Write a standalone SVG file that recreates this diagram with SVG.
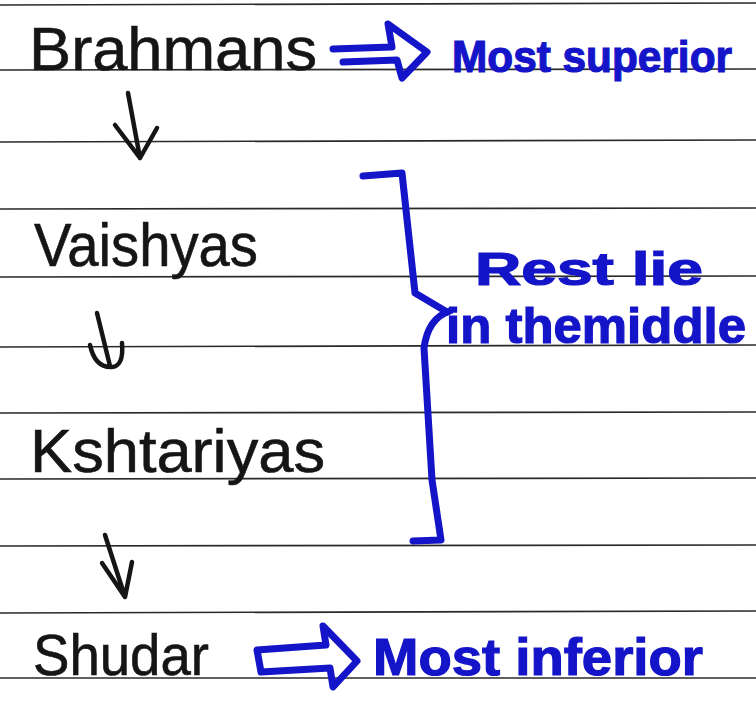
<svg xmlns="http://www.w3.org/2000/svg" width="756" height="710" viewBox="0 0 756 710">
<style>
.rule{stroke:#2a2a2a;stroke-width:1.6;fill:none}
.ink{font-family:"Liberation Sans","DejaVu Sans",sans-serif;fill:#151515;stroke:#151515;stroke-width:0.6}
.blue{font-family:"Liberation Sans","DejaVu Sans",sans-serif;font-weight:bold;fill:#1414c8;stroke:#1414c8;stroke-width:1.2}
.pen{stroke:#151515;stroke-width:4.5;fill:none;stroke-linecap:round;stroke-linejoin:round}
.bpen{stroke:#1414c8;stroke-width:7;fill:none;stroke-linecap:round;stroke-linejoin:round}
</style>
<rect width="756" height="710" fill="#ffffff"/>
<g id="paper-lines">
<line class="rule" x1="0" y1="5" x2="756" y2="3"/>
<line class="rule" x1="0" y1="70" x2="756" y2="69"/>
<line class="rule" x1="0" y1="142" x2="756" y2="140"/>
<line class="rule" x1="0" y1="209" x2="756" y2="208"/>
<line class="rule" x1="0" y1="277" x2="756" y2="276"/>
<line class="rule" x1="0" y1="347" x2="756" y2="345"/>
<line class="rule" x1="0" y1="413" x2="756" y2="412"/>
<line class="rule" x1="0" y1="479" x2="756" y2="478"/>
<line class="rule" x1="0" y1="546" x2="756" y2="545"/>
<line class="rule" x1="0" y1="613" x2="756" y2="611"/>
<line class="rule" x1="0" y1="678" x2="756" y2="678"/>
</g>
<g id="brahmans"><text class="ink" x="29" y="70" font-size="62" textLength="288" lengthAdjust="spacingAndGlyphs">Brahmans</text></g>
<g id="vaishyas"><text class="ink" x="34" y="266" font-size="62" textLength="224" lengthAdjust="spacingAndGlyphs">Vaishyas</text></g>
<g id="kshtariyas"><text class="ink" x="30" y="472" font-size="62" textLength="295" lengthAdjust="spacingAndGlyphs">Kshtariyas</text></g>
<g id="shudar"><text class="ink" x="33" y="675" font-size="58" textLength="176" lengthAdjust="spacingAndGlyphs">Shudar</text></g>
<g id="most-superior"><text class="blue" x="452" y="72" font-size="45" textLength="280" lengthAdjust="spacingAndGlyphs">Most superior</text></g>
<g id="rest-lie"><text class="blue" x="475" y="285" font-size="46" textLength="228" lengthAdjust="spacingAndGlyphs">Rest lie</text></g>
<g id="in-the-middle"><text class="blue" x="446" y="343" font-size="50" textLength="300" lengthAdjust="spacingAndGlyphs">in themiddle</text></g>
<g id="most-inferior"><text class="blue" x="373" y="675" font-size="52" textLength="330" lengthAdjust="spacingAndGlyphs">Most inferior</text></g>
<g id="connectors">
<path class="pen" d="M128,93 L140,158 M115,125 L140,158 L157,128"/>
<path class="pen" d="M97,313 L110,366 M90,345 Q95,368 112,367 Q124,366 122,343"/>
<path class="pen" d="M105,535 L125,597 M102,563 L125,597 L132,562"/>
<path class="bpen" d="M333,49 L392,47 L388,24 L427,52 L402,78 L397,60 L343,62"/>
<path class="bpen" d="M257,650 L326,645 L323,626 L357,661 L333,687 L330,668 L261,672 Z"/>
<path class="bpen" d="M363,176 L402,173 L415,293 L447,312"/>
<path class="bpen" d="M450,311 Q428,318 424,348 L432,480 L441,540 L413,541"/>
</g>
</svg>
